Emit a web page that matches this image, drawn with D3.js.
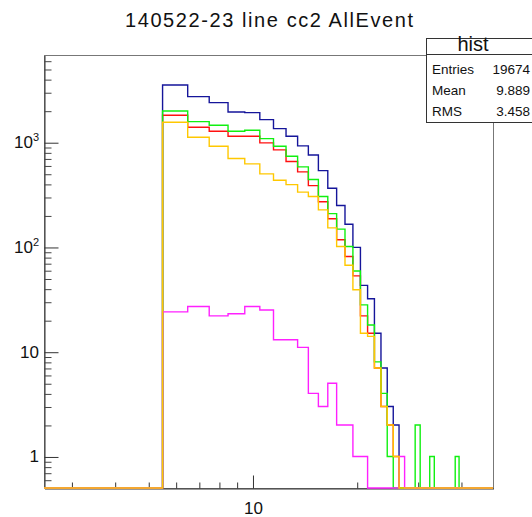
<!DOCTYPE html>
<html>
<head>
<meta charset="utf-8">
<script src="https://cdn.jsdelivr.net/npm/d3@7"></script>
<style>
  body { margin: 0; background: #fff; }
  svg { display: block; font-family: "Liberation Sans", Arial, sans-serif; }
</style>
</head>
<body>
<svg id="chart" width="532" height="517"></svg>
<script>
// bins are 1 unit wide, centred on 3 .. 49
const binLow = 2.5;
const binWidth = 1;

const blue = [0, 0, 0,
  3518, 2722, 2388, 1944, 1915, 1642, 1349, 1141, 922, 756, 536, 364, 249, 165, 99, 43, 32, 15, 7, 3, 2,
  0, 0, 0, 0, 0, 0, 0, 0, 0, 0, 0, 0, 0, 0, 0, 0, 0, 0, 0, 0, 0, 0, 0];
const red = [0, 0, 0,
  1808, 1390, 1273, 1141, 1141, 985, 845, 654, 521, 385, 270, 186, 117, 81, 53, 22, 15, 7, 3, 2, 1,
  0, 0, 0, 0, 0, 0, 0, 0, 0, 0, 0, 0, 0, 0, 0, 0, 0, 0, 0, 0, 0, 0, 0];
const green = [0, 0, 0,
  1987, 1573, 1451, 1273, 1301, 1083, 916, 735, 582, 440, 303, 208, 148, 101, 59, 28, 18, 8, 4, 1, 0,
  0, 0, 0, 2, 0, 0, 1, 0, 0, 0, 0, 0, 1, 0, 0, 0, 0, 0, 0, 0, 0, 0, 0];
const magenta = [0, 0, 0,
  24, 27, 22, 23, 27, 25, 13, 13, 11, 4, 3, 5, 2, 2, 1, 1, 0, 0, 0, 0, 0,
  1, 0, 0, 0, 0, 0, 0, 0, 0, 0, 0, 0, 0, 0, 0, 0, 0, 0, 0, 0, 0, 0, 0];
const yellow = [0, 0, 0,
  1550, 1116, 916, 698, 621, 499, 434, 394, 334, 303, 226, 152, 101, 67, 39, 15, 14, 7, 3, 2, 1,
  0, 0, 0, 0, 0, 0, 0, 0, 0, 0, 0, 0, 0, 0, 0, 0, 0, 0, 0, 0, 0, 0, 0];

const seriesList = [
  { values: blue, color: "#15159a" },
  { values: red, color: "#ff1010" },
  { values: green, color: "#10f010" },
  { values: magenta, color: "#ff20ff" },
  { values: yellow, color: "#ffc800" }
];

const titleText = "140522-23 line cc2 AllEvent";
const statsTitle = "hist";
const statsRows = [["Entries", "19674"], ["Mean", "9.889"], ["RMS", "3.458"]];

const xMajorTicks = [10];
const xMinorTicks = [3, 4, 5, 6, 7, 8, 9, 20, 30, 40];
const yMajorTicks = [1, 10, 100, 1000];
const yMinorTicks = [0.6, 0.7, 0.8, 0.9, 2, 3, 4, 5, 6, 7, 8, 9, 20, 30, 40, 50, 60, 70, 80, 90,
  200, 300, 400, 500, 600, 700, 800, 900, 2000, 3000, 4000, 5000, 6000];

const frame = { left: 44, right: 493, top: 55, bottom: 488 };

const svg = d3.select("#chart");

const x = d3.scaleLog().domain([2.5, 49.5]).range([frame.left, frame.right]);
const y = d3.scaleLog().domain([0.5, 6800]).range([frame.bottom, frame.top]);

// title
svg.append("text")
  .attr("x", 269)
  .attr("y", 27)
  .attr("text-anchor", "middle")
  .attr("font-size", 20)
  .attr("textLength", 288)
  .attr("lengthAdjust", "spacing")
  .attr("fill", "#111")
  .text(titleText);

// frame
svg.append("rect")
  .attr("x", frame.left + 0.5)
  .attr("y", frame.top + 0.5)
  .attr("width", frame.right - frame.left)
  .attr("height", frame.bottom - frame.top)
  .attr("fill", "none")
  .attr("stroke", "#777");

svg.append("clipPath").attr("id", "clip")
  .append("rect")
  .attr("x", frame.left - 1)
  .attr("y", frame.top)
  .attr("width", frame.right - frame.left + 2)
  .attr("height", frame.bottom - frame.top + 2);

// x axis ticks (pointing up into the frame)
svg.append("g")
  .attr("transform", `translate(0.5,${frame.bottom + 0.5})`)
  .call(d3.axisBottom(x).tickValues(xMinorTicks).tickSizeInner(-6).tickSizeOuter(0).tickFormat(""))
  .call(g => g.select(".domain").attr("stroke", "#333"))
  .call(g => g.selectAll(".tick line").attr("stroke", "#333"));

svg.append("g")
  .attr("transform", `translate(0.5,${frame.bottom + 0.5})`)
  .call(d3.axisBottom(x).tickValues(xMajorTicks).tickSizeInner(-13).tickSizeOuter(0).tickPadding(13).tickFormat(d3.format("d")))
  .call(g => g.select(".domain").remove())
  .call(g => g.selectAll(".tick line").attr("stroke", "#333"))
  .call(g => g.selectAll(".tick text")
    .attr("font-size", 17)
    .attr("font-family", "Liberation Sans, Arial, sans-serif")
    .attr("fill", "#111"));

// y axis ticks (pointing right into the frame)
svg.append("g")
  .attr("transform", `translate(${frame.left + 0.5},0.5)`)
  .call(d3.axisLeft(y).tickValues(yMinorTicks).tickSizeInner(-7).tickSizeOuter(0).tickFormat(""))
  .call(g => g.select(".domain").attr("stroke", "#333"))
  .call(g => g.selectAll(".tick line").attr("stroke", "#444"));

svg.append("g")
  .attr("transform", `translate(${frame.left + 0.5},0.5)`)
  .call(d3.axisLeft(y).tickValues(yMajorTicks).tickSizeInner(-14).tickSizeOuter(0).tickFormat(""))
  .call(g => g.select(".domain").remove())
  .call(g => g.selectAll(".tick line").attr("stroke", "#333"));

// y labels with superscript powers
const yLabels = svg.append("g")
  .attr("font-size", 17)
  .attr("fill", "#111")
  .attr("text-anchor", "end");

yMajorTicks.forEach(v => {
  const exp = Math.round(Math.log10(v));
  const t = yLabels.append("text")
    .attr("x", 39)
    .attr("y", y(v) + 6);
  if (exp <= 1) {
    t.text(String(v));
  } else {
    t.append("tspan").text("10");
    t.append("tspan")
      .attr("font-size", 11)
      .attr("dy", -7)
      .text(String(exp));
  }
});

// histograms
const line = d3.line()
  .x(d => x(d[0]))
  .y(d => y(Math.max(d[1], y.domain()[0])));

function stepPoints(values) {
  const pts = [];
  values.forEach((v, i) => {
    const lo = binLow + i * binWidth;
    pts.push([lo, v], [lo + binWidth, v]);
  });
  return pts;
}

const histG = svg.append("g").attr("clip-path", "url(#clip)");
seriesList.forEach(s => {
  histG.append("path")
    .datum(stepPoints(s.values))
    .attr("d", line)
    .attr("fill", "none")
    .attr("stroke", s.color)
    .attr("stroke-width", 1.4);
});

// stats box
const box = svg.append("g");
box.append("rect")
  .attr("x", 426.5)
  .attr("y", 38.5)
  .attr("width", 130)
  .attr("height", 84)
  .attr("fill", "#fff")
  .attr("stroke", "#333");
box.append("line")
  .attr("x1", 426.5).attr("x2", 540)
  .attr("y1", 54.5).attr("y2", 54.5)
  .attr("stroke", "#333");
box.append("text")
  .attr("x", 473)
  .attr("y", 51)
  .attr("text-anchor", "middle")
  .attr("font-size", 20)
  .attr("fill", "#111")
  .text(statsTitle);

statsRows.forEach((row, i) => {
  const by = 74 + i * 21;
  box.append("text")
    .attr("x", 432)
    .attr("y", by)
    .attr("font-size", 13.5)
    .attr("fill", "#111")
    .text(row[0]);
  box.append("text")
    .attr("x", 530)
    .attr("y", by)
    .attr("text-anchor", "end")
    .attr("font-size", 13.5)
    .attr("fill", "#111")
    .text(row[1]);
});
</script>
</body>
</html>
